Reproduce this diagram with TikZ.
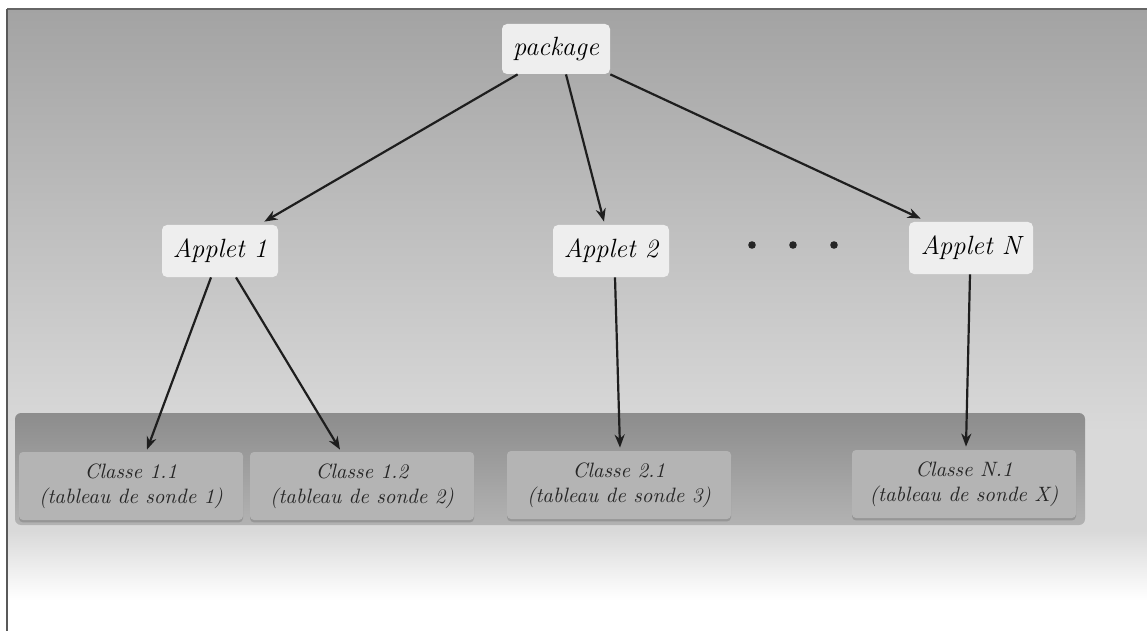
\documentclass[tikz,border=0pt]{standalone}
\usetikzlibrary{arrows.meta,shadows}
\definecolor{boxwhite}{HTML}{EEEEEE}
\definecolor{classfill}{HTML}{B4B4B4}
\definecolor{inkgray}{HTML}{262626}
\definecolor{arrowink}{HTML}{1E1E1E}
\begin{document}
\begin{tikzpicture}[x=0.5pt,y=-0.5pt,
  toplabel/.style={draw=none,fill=boxwhite,rounded corners=2.5pt,
    minimum width=54pt,minimum height=25pt,inner sep=2pt,
    font=\fontsize{13.2}{16}\selectfont\itshape},
  appletbox/.style={toplabel,minimum width=58pt,minimum height=26pt},
  classbox/.style={fill=classfill,rounded corners=2pt,
    minimum width=112pt,minimum height=34pt,inner sep=1pt,align=center,
    text=inkgray,font=\fontsize{10.4}{12.5}\selectfont\itshape,
    drop shadow={shadow xshift=0pt,shadow yshift=-1.2pt,opacity=0.35,fill=black!60}},
  link/.style={-{Stealth[length=6.5pt,width=5pt]},line width=1.1pt,draw=arrowink},
  dot/.style={circle,fill=black!85,inner sep=0pt,minimum size=3.8pt}]
\useasboundingbox (0,0) rectangle (1147,631);
% page background
\fill[white] (0,0) rectangle (1147,631);
% upper gradient area
\shade[top color=black!36,bottom color=black!15] (8,10) rectangle (1147,430);
% lower light strip and its fade to white
\fill[black!15] (8,430) rectangle (1147,530);
\shade[top color=black!15,bottom color=white] (8,530) rectangle (1147,600);
% frame lines
\draw[black!60,line width=0.9pt] (7,9) -- (1147,9);
\draw[black!65,line width=0.9pt] (7,9) -- (7,631);
% lower panel holding the classes
\shade[rounded corners=3pt,top color=black!45,bottom color=black!30]
  (15,413) rectangle (1085,525);

% nodes
\node[toplabel] (pkg) at (556,49) {package};
\node[appletbox] (a1) at (220,251) {Applet 1};
\node[appletbox] (a2) at (611,251) {Applet 2};
\node[appletbox,minimum width=62pt] (aN) at (971,248) {Applet N};
\node[dot] (d1) at (752,245) {};
\node[dot] (d2) at (793,245) {};
\node[dot] (d3) at (834,245) {};

\node[classbox] (c11) at (131,486) {Classe 1.1\\(tableau de sonde 1)};
\node[classbox] (c12) at (362,486) {Classe 1.2\\(tableau de sonde 2)};
\node[classbox] (c21) at (619,485) {Classe 2.1\\(tableau de sonde 3)};
\node[classbox] (cN1) at (964,484) {Classe N.1\\(tableau de sonde X)};

% connectors
\draw[link] ([xshift=8pt,yshift=0pt]pkg.south west) -- ([xshift=-7pt,yshift=1.5pt]a1.north east);
\draw[link] ([xshift=5pt]pkg.south) -- ([xshift=-3.5pt,yshift=1.5pt]a2.north);
\draw[link] (pkg.south east) -- ([xshift=6pt,yshift=1.5pt]aN.north west);
\draw[link] ([xshift=-4.5pt]a1.south) -- ([xshift=8pt,yshift=1pt]c11.north);
\draw[link] ([xshift=8pt]a1.south) -- ([xshift=-11pt,yshift=1pt]c12.north);
\draw[link] ([xshift=2pt]a2.south) -- ([xshift=0.5pt,yshift=1.5pt]c21.north);
\draw[link] ([xshift=-0.5pt]aN.south) -- ([xshift=1pt,yshift=1.5pt]cN1.north);
\end{tikzpicture}
\end{document}
